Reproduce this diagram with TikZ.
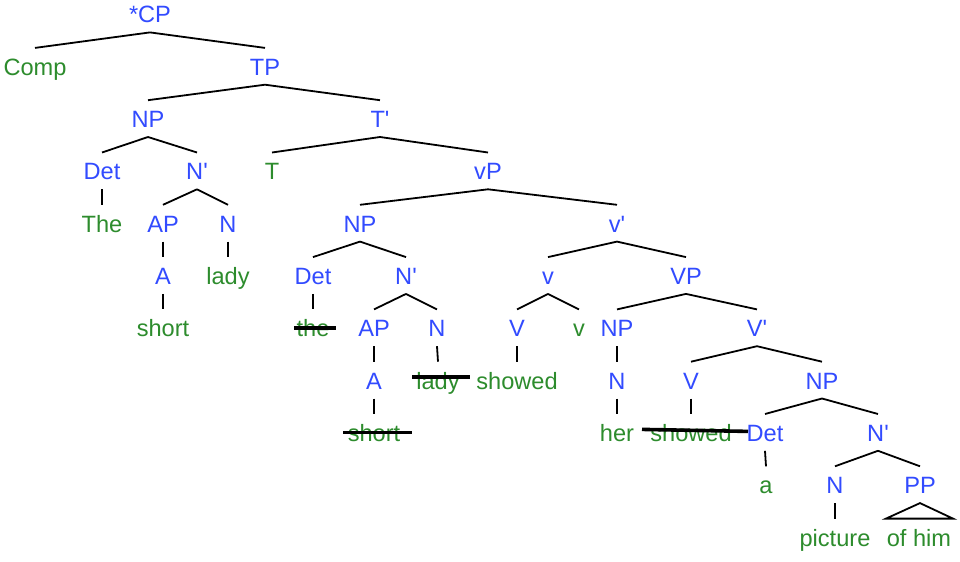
\documentclass[tikz,border=0pt]{standalone}
\usepackage{fontspec}
\setmainfont{Liberation Sans}
\usetikzlibrary{calc}
\definecolor{catblue}{RGB}{50,75,255}
\definecolor{wordgreen}{RGB}{45,140,45}
\begin{document}
\begin{tikzpicture}[x=0.5pt,y=-0.5pt,
 lab/.style={font=\fontsize{11.8}{14}\selectfont, text height=9pt, text depth=0pt, inner xsep=1pt, inner ysep=4.5pt, anchor=base},
 cat/.style={lab, text=catblue},
 wd/.style={lab, text=wordgreen},
 br/.style={line width=0.9pt},
 strike/.style={line width=1.8pt}]
\useasboundingbox[fill=white] (0,0) rectangle (960,562);
% row 0
\node[cat] (cp) at (150,23) {*CP};
% row 1
\node[wd] (comp) at (35,75.3) {Comp};
\node[cat] (tp) at (265,75.3) {TP};
% row 2
\node[cat] (np1) at (148,127.6) {NP};
\node[cat] (tbar) at (380,127.6) {T\textquotesingle};
% row 3
\node[cat] (det1) at (102,179.9) {Det};
\node[cat] (nbar1) at (197,179.9) {N\textquotesingle};
\node[wd] (t) at (272,179.9) {T};
\node[cat] (vp1) at (488,179.9) {vP};
% row 4
\node[wd] (the1) at (102,232.2) {The};
\node[cat] (ap1) at (163,232.2) {AP};
\node[cat] (n1) at (228,232.2) {N};
\node[cat] (np2) at (360,232.2) {NP};
\node[cat] (vbar1) at (617,232.2) {v\textquotesingle};
% row 5
\node[cat] (a1) at (163,284.5) {A};
\node[wd] (lady1) at (228,284.5) {lady};
\node[cat] (det2) at (313,284.5) {Det};
\node[cat] (nbar2) at (406,284.5) {N\textquotesingle};
\node[cat] (vlittle) at (548,284.5) {v};
\node[cat] (VP) at (686,284.5) {VP};
% row 6
\node[wd] (short1) at (163,336.8) {short};
\node[wd] (the2) at (313,336.8) {the};
\node[cat] (ap2) at (374,336.8) {AP};
\node[cat] (n2) at (437,336.8) {N};
\node[cat] (V1) at (517,336.8) {V};
\node[wd] (vw) at (579,336.8) {v};
\node[cat] (np3) at (617,336.8) {NP};
\node[cat] (Vbar) at (757,336.8) {V\textquotesingle};
% row 7
\node[cat] (a2) at (374,389.1) {A};
\node[wd] (lady2) at (438,389.1) {lady};
\node[wd] (showed1) at (517,389.1) {showed};
\node[cat] (n3) at (617,389.1) {N};
\node[cat] (V2) at (691,389.1) {V};
\node[cat] (np4) at (822,389.1) {NP};
% row 8
\node[wd] (short2) at (374,441.4) {short};
\node[wd] (her) at (617,441.4) {her};
\node[wd] (showed2) at (691,441.4) {showed};
\node[cat] (det3) at (765,441.4) {Det};
\node[cat] (nbar3) at (878,441.4) {N\textquotesingle};
% row 9
\node[wd] (a) at (766,493.7) {a};
\node[cat] (n4) at (835,493.7) {N};
\node[cat] (pp) at (920,493.7) {PP};
% row 10
\node[wd] (picture) at (835,546) {picture};
\node[wd] (ofhim) at (919,546) {of him};

% branches
\foreach \p/\c in {cp/comp, cp/tp, tp/np1, tp/tbar, np1/det1, np1/nbar1,
  tbar/t, tbar/vp1, det1/the1, nbar1/ap1, nbar1/n1, vp1/np2, vp1/vbar1,
  ap1/a1, n1/lady1, np2/det2, np2/nbar2, vbar1/vlittle, vbar1/VP,
  a1/short1, det2/the2, nbar2/ap2, nbar2/n2, vlittle/V1, vlittle/vw,
  VP/np3, VP/Vbar, ap2/a2, n2/lady2, V1/showed1, np3/n3, Vbar/V2, Vbar/np4,
  a2/short2, n3/her, V2/showed2, np4/det3, np4/nbar3, det3/a,
  nbar3/n4, nbar3/pp, n4/picture}
  \draw[br] (\p.south) -- (\c.north);
% triangle
\draw[br] (pp.south) -- ($(ofhim.north)+(-33,0)$) -- ($(ofhim.north)+(34,0)$) -- cycle;

% strike-throughs
\draw[strike] ($(the2.base)+(-19,-9)$) -- ($(the2.base)+(23,-9)$);
\draw[strike] ($(lady2.base)+(-26,-12)$) -- ($(lady2.base)+(32,-12)$);
\draw[strike] ($(short2.base)+(-31,-9)$) -- ($(short2.base)+(38,-9)$);
\draw[strike] ($(showed2.base)+(-49,-12)$) -- ($(showed2.base)+(57,-10)$);
\end{tikzpicture}
\end{document}
